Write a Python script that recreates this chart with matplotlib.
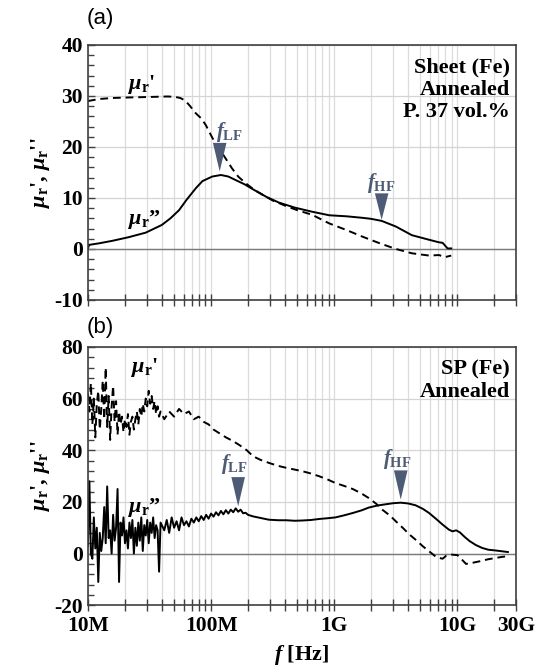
import numpy as np
import matplotlib
matplotlib.use("Agg")
import matplotlib.pyplot as plt
from matplotlib.ticker import FixedLocator, MultipleLocator, NullFormatter

plt.rcParams['font.family'] = ['Liberation Serif', 'DejaVu Serif']
plt.rcParams['font.weight'] = 'bold'
plt.rcParams['axes.labelweight'] = 'bold'
plt.rcParams['axes.unicode_minus'] = False
plt.rcParams['mathtext.fontset'] = 'custom'
plt.rcParams['mathtext.rm'] = 'Liberation Serif:bold'
plt.rcParams['mathtext.it'] = 'Liberation Serif:bold:italic'
plt.rcParams['mathtext.bf'] = 'Liberation Serif:bold'

# ---------------- Panel (a) data: Sheet (Fe) annealed ----------------
a_real_logf = [7.00, 7.09, 7.20, 7.33, 7.50, 7.65, 7.71, 7.75, 7.79, 7.83, 7.876, 7.92,
               7.957, 8.01, 8.05, 8.09, 8.13, 8.17, 8.22, 8.28, 8.35, 8.42, 8.50, 8.61,
               8.70, 8.82, 8.96, 9.10, 9.23, 9.37, 9.50, 9.63, 9.77, 9.85, 9.90, 9.95]
a_real = [29.0, 29.4, 29.6, 29.7, 29.8, 29.9, 29.8, 29.6, 29.1, 28.0, 26.6, 25.6,
          24.3, 21.8, 20.2, 18.8, 17.3, 15.8, 14.2, 12.9, 11.6, 10.6, 9.5, 8.4,
          7.6, 6.7, 5.0, 3.7, 2.4, 1.1, 0.0, -0.85, -1.3, -1.2, -1.6, -1.3]
a_imag_logf = [7.00, 7.01, 7.09, 7.20, 7.33, 7.47, 7.60, 7.67, 7.74, 7.80, 7.876, 7.93,
               8.01, 8.08, 8.14, 8.20, 8.27, 8.34, 8.45, 8.55, 8.68, 8.82, 8.96, 9.10,
               9.23, 9.30, 9.385, 9.50, 9.63, 9.77, 9.85, 9.88, 9.92, 9.95]
a_imag = [0.1, 0.8, 1.1, 1.6, 2.3, 3.2, 4.7, 6.0, 7.6, 9.6, 11.9, 13.3,
          14.2, 14.5, 14.2, 13.5, 12.7, 11.7, 10.2, 9.1, 8.1, 7.3, 6.6, 6.4,
          6.1, 5.9, 5.5, 4.4, 2.7, 1.8, 1.3, 1.2, 0.1, 0.1]

# ---------------- Panel (b) data: SP (Fe) annealed ----------------
b_noisy_real = [62, 55, 66, 50, 60, 45, 58, 63, 48, 56, 67, 52, 72, 49, 61, 44, 57, 65,
                51, 59, 46, 55, 50, 53, 47, 52, 49, 54, 46, 51, 53, 48, 52, 55, 50, 56,
                53, 58, 55, 60, 57, 63, 58, 61, 56, 59, 54, 57, 53, 55]
b_noisy_imag = [3, 28, 0, -2, 14, 2, 10, -11, 8, 1, 6, 18, 4, 26, 6, 9, 0, 15,
                5, 10, 25, -11, 12, 7, 14, 4, 9, 2, 12, 6, 13, 0, 10, 3, 12, 5,
                14, 1, 11, 7, 13, 4, 12, 8, 14, 6, 11, 9, -7, 12]
b_real_logf = [7.62, 7.66, 7.70, 7.74, 7.78, 7.82, 7.86, 7.90, 7.94, 7.98, 8.02, 8.07,
               8.12, 8.18, 8.23, 8.29, 8.34, 8.40, 8.47, 8.54, 8.61, 8.68, 8.74, 8.81,
               8.88, 8.95, 9.01, 9.08, 9.15, 9.22, 9.28, 9.34, 9.39, 9.45, 9.50, 9.56,
               9.61, 9.67, 9.72, 9.78, 9.83, 9.88, 9.91, 9.95, 10.0, 10.04, 10.07, 10.12,
               10.18, 10.25, 10.31, 10.36, 10.41]
b_real = [52, 55, 53, 56, 54, 55, 52, 53, 51, 50, 48, 46.5,
          45, 43.5, 42, 40, 37.7, 36.3, 35.1, 34, 33.2, 32.5, 31.9, 31,
          29.9, 28.6, 27.3, 26.2, 25.0, 23.3, 21.5, 19.3, 17.0, 14.8, 12.5, 9.8,
          7.4, 5.0, 2.8, 0.5, -1.4, -2.0, -0.8, -0.4, -0.6, -2.5, -4.0, -3.6,
          -3.0, -2.2, -1.7, -1.3, -1.0]
b_imag_logf = [7.62, 7.64, 7.66, 7.68, 7.70, 7.72, 7.74, 7.76, 7.78, 7.80, 7.82, 7.84,
               7.86, 7.88, 7.90, 7.92, 7.94, 7.96, 7.98, 8.00, 8.02, 8.04, 8.06, 8.08,
               8.10, 8.12, 8.14, 8.16, 8.18, 8.20, 8.22, 8.24, 8.26, 8.28, 8.30, 8.34,
               8.40, 8.47, 8.55, 8.61, 8.68, 8.74, 8.81, 8.88, 8.95, 9.01, 9.08, 9.15,
               9.22, 9.28, 9.35, 9.42, 9.48, 9.54, 9.60, 9.66, 9.72, 9.77, 9.83, 9.88,
               9.93, 9.96, 9.99, 10.02, 10.06, 10.10, 10.15, 10.20, 10.25, 10.31, 10.36,
               10.41]
b_imag = [9, 13, 8, 14, 10, 12.5, 9, 14, 11, 12.5, 10.5, 13.5,
          12, 14, 12.5, 14.5, 13, 15, 13.5, 15.5, 14.3, 16, 14.8, 16.5,
          15.2, 16.8, 15.5, 17, 16, 17.5, 16.2, 17, 15.6, 15.8, 15, 14.4,
          13.8, 13.1, 12.9, 12.9, 12.7, 12.8, 13.0, 13.4, 13.7, 14.0, 14.8, 15.7,
          16.7, 17.8, 18.6, 19.1, 19.5, 19.7, 19.4, 18.7, 17.3, 15.7, 13.3, 11.2,
          9.3, 8.6, 9.0, 8.2, 6.4, 4.8, 3.3, 2.2, 1.5, 1.2, 0.9,
          0.6]

xtick_pos = [1e7, 1e8, 1e9, 1e10, 3e10]
xtick_labels = ['10M', '100M', '1G', '10G', '30G']

slate = '#4d5b74'
LF = r'$f_{\mathrm{LF}}$'
HF = r'$f_{\mathrm{HF}}$'
MU1 = r'$\mu_{\mathrm{r}}$' + "'"
MU2 = r'$\mu_{\mathrm{r}}$' + '\u201d'

fig = plt.figure(figsize=(5.36, 6.71), dpi=100)
ax_a = fig.add_axes([0.164, 0.553, 0.799, 0.380])
ax_b = fig.add_axes([0.164, 0.098, 0.799, 0.385])


def style_axis(ax, ylim, major, minor):
    ax.set_xscale('log')
    ax.set_xlim(1e7, 3e10)
    ax.set_ylim(*ylim)
    ax.yaxis.set_major_locator(MultipleLocator(major))
    ax.yaxis.set_minor_locator(MultipleLocator(minor))
    minors = [m * 10 ** e for e in range(7, 11) for m in range(2, 10) if m * 10 ** e < 3e10]
    ax.xaxis.set_major_locator(FixedLocator(xtick_pos))
    ax.xaxis.set_minor_locator(FixedLocator(minors))
    ax.xaxis.set_minor_formatter(NullFormatter())
    ax.grid(True, which='both', axis='x', color='#dcdcdc', lw=0.9)
    ax.grid(True, which='major', axis='y', color='#d4d4d4', lw=0.9)
    ax.axhline(0, color='#7a7a7a', lw=1.0, zorder=1)
    ax.tick_params(axis='x', which='both', direction='inout', length=8, width=1.0,
                   color='#404040', top=False)
    ax.tick_params(axis='y', which='major', direction='in', length=5, width=1.0,
                   color='#404040', right=False)
    ax.tick_params(axis='y', which='minor', direction='in', length=4, width=1.0,
                   color='#404040', right=False)
    ax.tick_params(labelsize=15.5)
    for s in ax.spines.values():
        s.set_color('#404040')
        s.set_linewidth(1.2)
    ax.set_axisbelow(True)


def arrow(ax, logf, tip, top, width_dec=0.055):
    f = 10 ** logf
    fl = 10 ** (logf - width_dec)
    fr = 10 ** (logf + width_dec)
    ax.fill([fl, fr, f], [top, top, tip], color=slate, zorder=5, lw=0)


# ---- Panel (a)
style_axis(ax_a, (-10, 40), 10, 2)
ax_a.set_xticklabels([])
ax_a.plot([10 ** v for v in a_real_logf], a_real, color='black', lw=1.4, ls=(0, (4, 2.5)))
ax_a.plot([10 ** v for v in a_imag_logf], a_imag, color='black', lw=1.4)
arrow(ax_a, 8.07, 15.2, 20.8)
arrow(ax_a, 9.385, 5.7, 10.9)
ax_a.text(10 ** 8.15, 23.0, LF, color=slate, fontsize=15, ha='center', va='center')
ax_a.text(10 ** 9.385, 13.0, HF, color=slate, fontsize=15, ha='center', va='center')
ax_a.text(10 ** 7.44, 32.3, MU1, fontsize=16, ha='center', va='center')
ax_a.text(10 ** 7.46, 5.8, MU2, fontsize=16, ha='center', va='center')
ax_a.text(0.985, 0.95, 'Sheet (Fe)\nAnnealed\nP. 37 vol.%', transform=ax_a.transAxes,
          ha='right', va='top', fontsize=16, linespacing=1.15)
fig.text(0.187, 0.972, '(a)', family='Liberation Sans', fontweight='normal',
         fontsize=16, ha='center', va='center')

# ---- Panel (b)
style_axis(ax_b, (-20, 80), 20, 4)
ax_b.set_xticklabels(xtick_labels)
noisy_logf = np.linspace(7.0, 7.59, len(b_noisy_real))
fr = np.concatenate([10 ** noisy_logf, [10 ** v for v in b_real_logf]])
fi = np.concatenate([10 ** noisy_logf, [10 ** v for v in b_imag_logf]])
ax_b.plot(fr, list(b_noisy_real) + b_real, color='black', lw=1.4, ls=(0, (4, 2.5)))
ax_b.plot(fi, list(b_noisy_imag) + b_imag, color='black', lw=1.4)
arrow(ax_b, 8.22, 18.3, 29.6)
arrow(ax_b, 9.54, 20.9, 32.2)
ax_b.text(10 ** 8.19, 34.8, LF, color=slate, fontsize=15, ha='center', va='center')
ax_b.text(10 ** 9.515, 36.6, HF, color=slate, fontsize=15, ha='center', va='center')
ax_b.text(10 ** 7.46, 72.0, MU1, fontsize=16, ha='center', va='center')
ax_b.text(10 ** 7.46, 17.8, MU2, fontsize=16, ha='center', va='center')
ax_b.text(0.985, 0.95, 'SP (Fe)\nAnnealed', transform=ax_b.transAxes,
          ha='right', va='top', fontsize=16, linespacing=1.15)
fig.text(0.187, 0.512, '(b)', family='Liberation Sans', fontweight='normal',
         fontsize=16, ha='center', va='center')

ylab = r'$\mu_{\mathrm{r}}$' + "', " + r'$\mu_{\mathrm{r}}$' + "''"
for ax in (ax_a, ax_b):
    ax.set_ylabel(ylab, fontsize=16, labelpad=2)
ax_b.set_xlabel(r'$f$ [Hz]', fontsize=16, labelpad=5)

fig.savefig('out.png', dpi=100)
